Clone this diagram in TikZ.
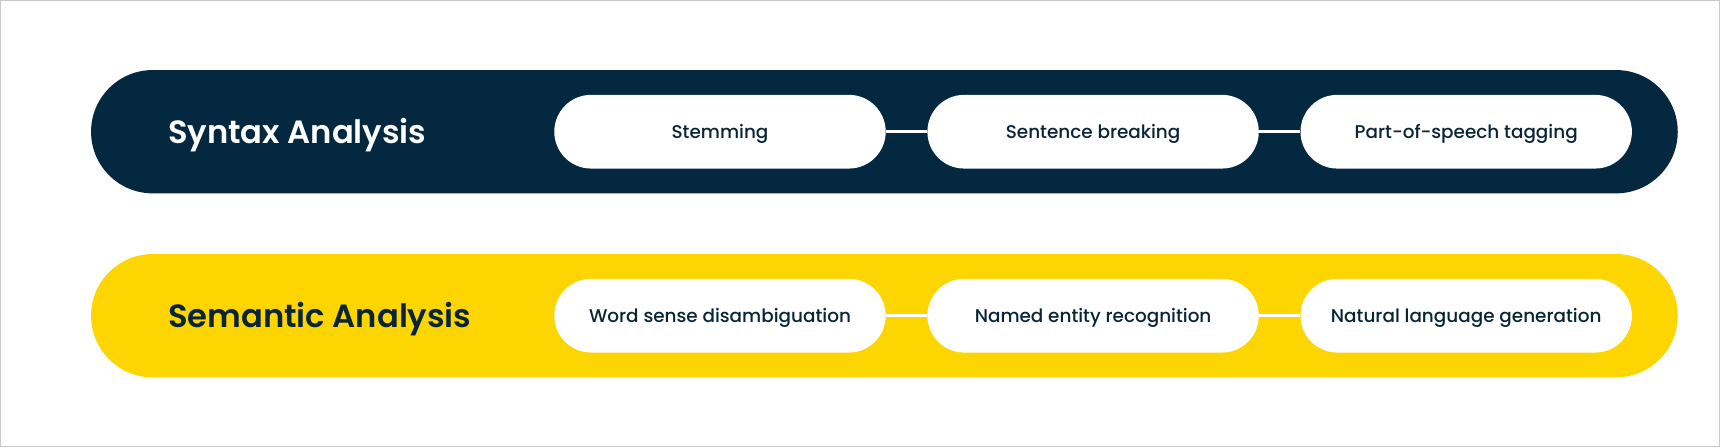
\documentclass[tikz,border=0pt]{standalone}
\usepackage{fontspec}
\setmainfont{Poppins}
\newfontfamily\chipfont{Poppins Medium}
\newfontfamily\titlefont{Poppins SemiBold}
\usepackage{tikz}
\usetikzlibrary{positioning}

\definecolor{navy}{RGB}{3,40,64}
\definecolor{sunny}{RGB}{253,213,0}
\definecolor{ink}{RGB}{8,37,56}
\definecolor{frame}{RGB}{200,200,200}

\begin{document}
\begin{tikzpicture}[
		band/.style={rectangle, rounded corners=30.8pt, minimum width=793.35pt, minimum height=61.65pt, inner sep=0pt},
		chip/.style={rectangle, rounded corners=18.4pt, fill=white, minimum width=165.7pt, minimum height=36.85pt, inner sep=0pt, text=ink, text height=0.7em, text depth=0pt, font=\chipfont\fontsize{9.2}{11}\selectfont},
		title/.style={anchor=west, inner sep=0pt, text height=0.7em, text depth=0pt, font=\titlefont\fontsize{16.1}{19}\selectfont},
		link/.style={white, line width=1.3pt}
	]
		\useasboundingbox (0,0) rectangle (860pt,223.5pt);
		\draw[frame, line width=0.5pt] (0.25pt,0.25pt) rectangle (859.75pt,223.25pt);
		\coordinate (R1) at (442.2pt,157.65pt);
		\coordinate (R2) at (442.2pt,65.65pt);
		% the two bands
		\node[band, fill=navy] (syntax) at (R1) {};
		\node[band, fill=sunny] (semantic) at (R2) {};
		\node[title, text=white] (syntaxlbl) at (83.8pt,155.4pt) {Syntax Analysis};
		\node[title, text=ink] (semanticlbl) at (83.8pt,63.4pt) {Semantic Analysis};
		% steps
		\node[chip] (stem) at (360pt,157.65pt) {Stemming};
		\node[chip, right=20.45pt of stem] (sent) {Sentence breaking};
		\node[chip, right=20.45pt of sent] (pos) {Part-of-speech tagging};
		\node[chip] (wsd) at (360pt,65.65pt) {Word sense disambiguation};
		\node[chip, right=20.45pt of wsd] (ner) {Named entity recognition};
		\node[chip, right=20.45pt of ner] (nlg) {Natural language generation};
		\draw[link] (stem) -- (sent);
		\draw[link] (sent) -- (pos);
		\draw[link] (wsd) -- (ner);
		\draw[link] (ner) -- (nlg);
	\end{tikzpicture}
\end{document}
